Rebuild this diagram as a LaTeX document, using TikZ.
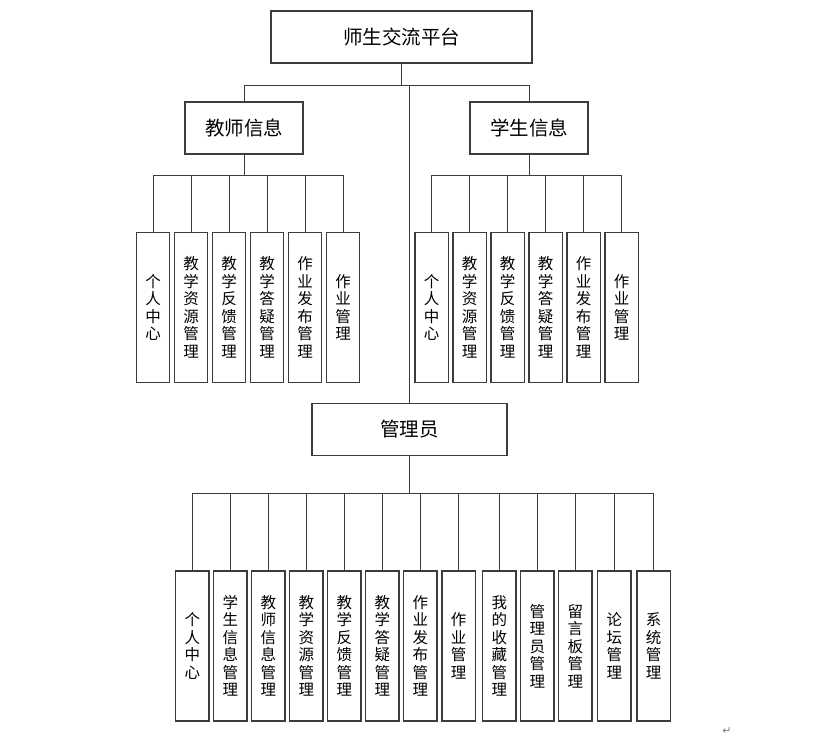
\documentclass[tikz,border=0pt]{standalone}
\usepackage{fontspec}
\newfontfamily\cjk{Noto Sans CJK SC}
\newfontfamily\symfont{DejaVu Sans}
\definecolor{ln}{RGB}{60,60,60}
\begin{document}
\begin{tikzpicture}[x=1pt,y=-1pt,
  bigbox/.style={draw=ln, line width=1.3pt, minimum height=52pt, inner sep=0pt, font=\cjk\fontsize{19.5}{21}\selectfont},
  colbox/.style={draw=ln, line width=1.3pt, minimum width=33.5pt, minimum height=150pt, inner sep=0pt, align=center, font=\cjk\fontsize{15.5}{17.5}\selectfont},
  conn/.style={draw=ln, line width=1pt}]
\useasboundingbox (0,0) rectangle (833,742);

% main boxes
\node[bigbox, minimum width=261pt] (top) at (401.5,37) {师生交流平台};
\node[bigbox, minimum width=118pt] (teacher) at (244,128) {教师信息};
\node[bigbox, minimum width=118pt] (student) at (529,128) {学生信息};
\node[bigbox, minimum width=195pt] (admin) at (409.5,429.3) {管理员};

\coordinate (bus0) at (0,85);
\coordinate (bus1) at (0,175.7);
\coordinate (bus2) at (0,493.7);

% teacher children
\foreach \n/\t [count=\i from 0] in {t1/{个\\人\\中\\心}, t2/{教\\学\\资\\源\\管\\理}, t3/{教\\学\\反\\馈\\管\\理}, t4/{教\\学\\答\\疑\\管\\理}, t5/{作\\业\\发\\布\\管\\理}, t6/{作\\业\\管\\理}}
  \node[colbox] (\n) at ({153+38*\i},307.3) {\t};
% student children
\foreach \n/\t [count=\i from 0] in {s1/{个\\人\\中\\心}, s2/{教\\学\\资\\源\\管\\理}, s3/{教\\学\\反\\馈\\管\\理}, s4/{教\\学\\答\\疑\\管\\理}, s5/{作\\业\\发\\布\\管\\理}, s6/{作\\业\\管\\理}}
  \node[colbox] (\n) at ({431.7+38*\i},307.3) {\t};
% admin children
\foreach \n/\x/\t in {a1/192.3/{个\\人\\中\\心}, a2/230.3/{学\\生\\信\\息\\管\\理}, a3/268.3/{教\\师\\信\\息\\管\\理}, a4/306.3/{教\\学\\资\\源\\管\\理}, a5/344.3/{教\\学\\反\\馈\\管\\理}, a6/382.3/{教\\学\\答\\疑\\管\\理}, a7/420.3/{作\\业\\发\\布\\管\\理}, a8/458.7/{作\\业\\管\\理}, a9/499.3/{我\\的\\收\\藏\\管\\理}, a10/537.3/{管\\理\\员\\管\\理}, a11/575.3/{留\\言\\板\\管\\理}, a12/614.3/{论\\坛\\管\\理}, a13/653.7/{系\\统\\管\\理}}
  \node[colbox] (\n) at (\x,646) {\t};

% level 1 connectors
\draw[conn] (top.south) -- (top.south |- bus0);
\draw[conn] (teacher.north) -- (teacher.north |- bus0) -- (student.north |- bus0) -- (student.north);
\draw[conn] (admin.north) -- (admin.north |- bus0);

% teacher connectors
\draw[conn] (teacher.south) -- (teacher.south |- bus1);
\draw[conn] (t1.north) -- (t1.north |- bus1) -- (t6.north |- bus1) -- (t6.north);
\foreach \n in {t2,t3,t4,t5} \draw[conn] (\n.north) -- (\n.north |- bus1);

% student connectors
\draw[conn] (student.south) -- (student.south |- bus1);
\draw[conn] (s1.north) -- (s1.north |- bus1) -- (s6.north |- bus1) -- (s6.north);
\foreach \n in {s2,s3,s4,s5} \draw[conn] (\n.north) -- (\n.north |- bus1);

% admin connectors
\draw[conn] (admin.south) -- (admin.south |- bus2);
\draw[conn] (a1.north) -- (a1.north |- bus2) -- (a13.north |- bus2) -- (a13.north);
\foreach \n in {a2,a3,a4,a5,a6,a7,a8,a9,a10,a11,a12} \draw[conn] (\n.north) -- (\n.north |- bus2);

% paragraph mark
\node[text=gray, font=\symfont\fontsize{11}{11}\selectfont, inner sep=0pt] (pm) at (727,731) {↵};
\end{tikzpicture}
\end{document}
